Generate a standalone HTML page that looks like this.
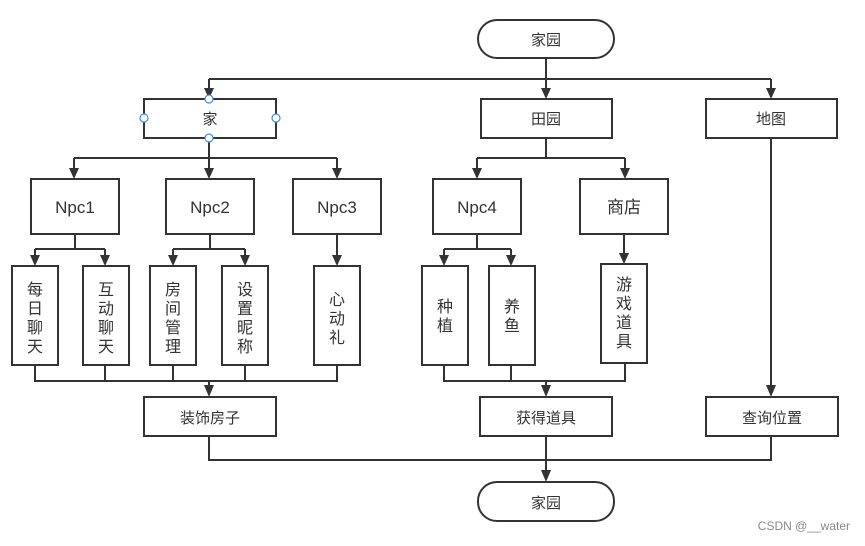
<!DOCTYPE html>
<html><head><meta charset="utf-8"><style>
html,body{margin:0;padding:0;background:#fff;}
svg text{font-family:"Liberation Sans","Noto Sans CJK SC",sans-serif;fill:#333;}
</style></head><body>
<svg width="865" height="541" viewBox="0 0 865 541" xmlns="http://www.w3.org/2000/svg">
<g fill="none" stroke="#333" stroke-width="2">
<!-- boxes -->
<rect x="478" y="20" width="136" height="38" rx="19"/>
<rect x="144" y="99" width="132" height="39"/>
<rect x="481" y="99" width="131" height="39"/>
<rect x="706" y="99" width="131" height="39"/>
<rect x="31" y="179" width="88" height="55"/>
<rect x="166" y="179" width="88" height="55"/>
<rect x="293" y="179" width="88" height="55"/>
<rect x="433" y="179" width="88" height="55"/>
<rect x="580" y="179" width="88" height="55"/>
<rect x="12" y="266" width="46" height="99"/>
<rect x="83" y="266" width="46" height="99"/>
<rect x="150" y="266" width="46" height="99"/>
<rect x="222" y="266" width="46" height="99"/>
<rect x="314" y="266" width="46" height="99"/>
<rect x="422" y="266" width="46" height="99"/>
<rect x="489" y="266" width="46" height="99"/>
<rect x="601" y="264" width="46" height="99"/>
<rect x="144" y="397" width="132" height="39"/>
<rect x="480" y="397" width="132" height="39"/>
<rect x="706" y="397" width="132" height="39"/>
<rect x="478" y="482" width="136" height="39" rx="19"/>
<!-- lines -->
<path d="M546 58V92 M209 79H771 M209 79V92 M771 79V92"/>
<path d="M209 138V170 M74 158H337 M74 158V170 M337 158V170"/>
<path d="M546 138V158 M477 158H625 M477 158V170 M625 158V170"/>
<path d="M75 234V249 M35 249H105 M35 249V258 M105 249V258"/>
<path d="M210 234V249 M173 249H245 M173 249V258 M245 249V258"/>
<path d="M337 234V258"/>
<path d="M477 234V249 M444 249H511 M444 249V258 M511 249V258"/>
<path d="M624 234V256"/>
<path d="M35 365V381H337V365 M105 365V381 M173 365V381 M245 365V381 M209 381V389"/>
<path d="M444 365V381H625V363 M511 365V381 M546 381V389"/>
<path d="M771 138V389"/>
<path d="M209 436V460H771V436 M546 436V474"/>
</g>
<g fill="#333">
<polygon points="204,88 214,88 209,99"/>
<polygon points="541,88 551,88 546,99"/>
<polygon points="766,88 776,88 771,99"/>
<polygon points="69,168 79,168 74,179"/>
<polygon points="204,168 214,168 209,179"/>
<polygon points="332,168 342,168 337,179"/>
<polygon points="472,168 482,168 477,179"/>
<polygon points="620,168 630,168 625,179"/>
<polygon points="30,255 40,255 35,266"/>
<polygon points="100,255 110,255 105,266"/>
<polygon points="168,255 178,255 173,266"/>
<polygon points="240,255 250,255 245,266"/>
<polygon points="332,255 342,255 337,266"/>
<polygon points="439,255 449,255 444,266"/>
<polygon points="506,255 516,255 511,266"/>
<polygon points="619,253 629,253 624,264"/>
<polygon points="204,385 214,385 209,397"/>
<polygon points="541,385 551,385 546,397"/>
<polygon points="766,385 776,385 771,397"/>
<polygon points="541,470 551,470 546,482"/>
</g>
<g fill="#fff" stroke="#3d8cf0" stroke-width="1.2">
<circle cx="209" cy="99" r="4"/><circle cx="144" cy="118" r="4"/><circle cx="276" cy="118" r="4"/><circle cx="209" cy="138" r="4"/>
</g>
<g font-size="15" text-anchor="middle">
<text x="546" y="45">家园</text>
<text x="210" y="124">家</text>
<text x="546" y="124">田园</text>
<text x="771" y="124">地图</text>
<text x="210" y="423">装饰房子</text>
<text x="546" y="423">获得道具</text>
<text x="772" y="423">查询位置</text>
<text x="546" y="508">家园</text>
</g>
<g font-size="17" text-anchor="middle">
<text x="75" y="213">Npc1</text>
<text x="210" y="213">Npc2</text>
<text x="337" y="213">Npc3</text>
<text x="477" y="213">Npc4</text>
<text x="624" y="213">商店</text>
</g>
<g font-size="16" text-anchor="middle">
<text x="35" y="295">每</text><text x="35" y="314">日</text><text x="35" y="333">聊</text><text x="35" y="352">天</text>
<text x="106" y="295">互</text><text x="106" y="314">动</text><text x="106" y="333">聊</text><text x="106" y="352">天</text>
<text x="173" y="295">房</text><text x="173" y="314">间</text><text x="173" y="333">管</text><text x="173" y="352">理</text>
<text x="245" y="295">设</text><text x="245" y="314">置</text><text x="245" y="333">昵</text><text x="245" y="352">称</text>
<text x="337" y="305">心</text><text x="337" y="324">动</text><text x="337" y="343">礼</text>
<text x="445" y="312">种</text><text x="445" y="331">植</text>
<text x="512" y="312">养</text><text x="512" y="331">鱼</text>
<text x="624" y="290">游</text><text x="624" y="309">戏</text><text x="624" y="328">道</text><text x="624" y="347">具</text>
</g>
<text x="850" y="530" font-size="12" text-anchor="end" style="fill:#888">CSDN @__water</text>
</svg>
</body></html>
